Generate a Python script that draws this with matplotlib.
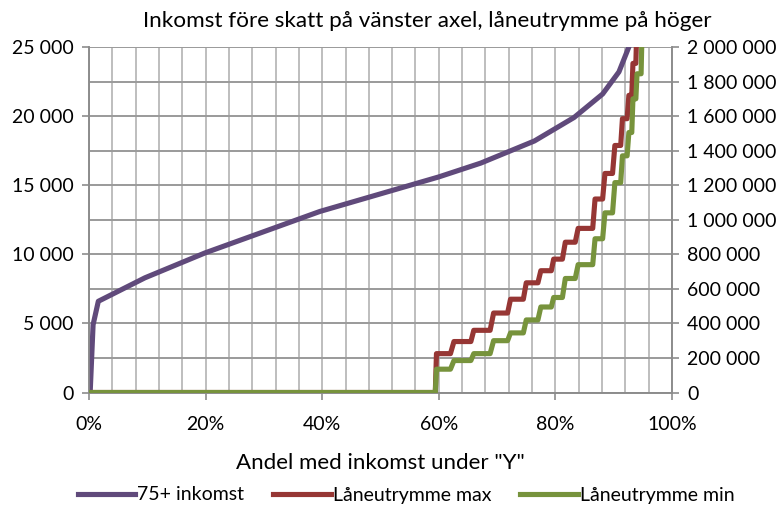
import matplotlib
matplotlib.use("Agg")
import matplotlib.pyplot as plt
from matplotlib.ticker import FuncFormatter
from matplotlib.lines import Line2D

plt.rcParams['font.family'] = ['Lato', 'DejaVu Sans']

# ---- data ----
# 75+ income (left axis), x in percent
inc_x = [0.2, 0.7, 1.6, 9.6, 19.9, 39.6, 60.0, 67.2, 76.4, 83.2, 88.1, 90.9, 92.6, 94.0]
inc_y = [0, 4900, 6600, 8300, 10100, 13100, 15600, 16600, 18200, 19900, 21600, 23200, 25000, 27500]

# loan-space staircase (right axis)
zero_start = 0.2
zero_end = 59.4
step_start = [59.6, 62.6, 66.0, 69.4, 72.3, 75.0, 77.5, 79.7, 81.7, 83.9, 86.8, 88.5, 90.2, 91.5, 92.6, 93.3, 94.0, 94.9]
step_end   = [62.0, 65.5, 68.8, 71.8, 74.5, 77.0, 79.3, 81.2, 83.4, 86.4, 88.1, 89.8, 91.2, 92.3, 93.1, 93.8, 94.7, 95.6]
max_levels = [225000, 295000, 360000, 460000, 540000, 635000, 705000, 772000, 870000, 950000,
              1120000, 1268000, 1430000, 1585000, 1720000, 1905000, 2150000, 2300000]
min_levels = [135000, 185000, 225000, 300000, 345000, 420000, 495000, 550000, 660000, 740000,
              890000, 1040000, 1215000, 1370000, 1505000, 1700000, 1845000, 2150000]

x_ticks = [0, 20, 40, 60, 80, 100]
left_ticks = [0, 5000, 10000, 15000, 20000, 25000]
right_ticks = list(range(0, 2000001, 200000))

title = "Inkomst före skatt på vänster axel, låneutrymme på höger"
xlabel = 'Andel med inkomst under "Y"'
names = ["75+ inkomst", "Låneutrymme max", "Låneutrymme min"]
colors = ["#604A7B", "#963634", "#77933C"]


def staircase(levels):
    xs = [zero_start, zero_end]
    ys = [0, 0]
    for s, e, v in zip(step_start, step_end, levels):
        xs += [s, e]
        ys += [v, v]
    return xs, ys


def sp(v, pos=None):
    return f"{int(v):,}".replace(",", " ")


FS = 14

fig = plt.figure(figsize=(7.77, 5.05), dpi=100)
ax = fig.add_axes([89/777, 1-392.5/505, (672-89)/777, (392.5-47)/505])
ax2 = ax.twinx()

ax.set_xlim(0, 100)
ax.set_ylim(0, 25000)
ax2.set_ylim(0, 2000000)

# grid
for v in range(0, 101, 4):
    ax.axvline(v, color="#B9B9B9", lw=1.3, zorder=0)
for v in range(0, 25001, 2500):
    ax.axhline(v, color="#9A9A9A", lw=1.4, zorder=0)

lw = 3.7
xs, ys = staircase(max_levels)
ax2.plot(xs, ys, color=colors[1], lw=lw, zorder=2)
xs, ys = staircase(min_levels)
ax2.plot(xs, ys, color=colors[2], lw=lw, zorder=3)
ax.plot(inc_x, inc_y, color=colors[0], lw=lw, zorder=4)

ax.set_xticks(x_ticks)
ax.xaxis.set_major_formatter(FuncFormatter(lambda v, p: f"{int(v)}%"))
ax.set_yticks(left_ticks)
ax.yaxis.set_major_formatter(FuncFormatter(sp))
ax2.set_yticks(right_ticks)
ax2.yaxis.set_major_formatter(FuncFormatter(sp))

for a in (ax, ax2):
    for s in a.spines.values():
        s.set_color("#8C8C8C")
        s.set_linewidth(1.2)
    a.tick_params(colors="#8C8C8C", labelcolor="black", labelsize=FS, width=1.2, length=5)
ax.tick_params(axis="x", pad=12)
ax.tick_params(axis="y", pad=6)
ax2.tick_params(axis="y", pad=6)
ax.spines["top"].set_visible(False)
ax2.spines["top"].set_visible(False)

ax.set_xlabel(xlabel, fontsize=16, labelpad=14)
fig.text(427/777, 1-21/505, title, ha="center", va="center", fontsize=16.2)

handles = [Line2D([], [], color=c, lw=lw) for c in colors]
fig.legend(handles, names, loc="center", bbox_to_anchor=(406/777, 1-495/505), ncol=3,
           frameon=False, fontsize=FS, handlelength=2.95, handletextpad=0.1,
           columnspacing=1.5)

fig.savefig("out.png", dpi=100)
